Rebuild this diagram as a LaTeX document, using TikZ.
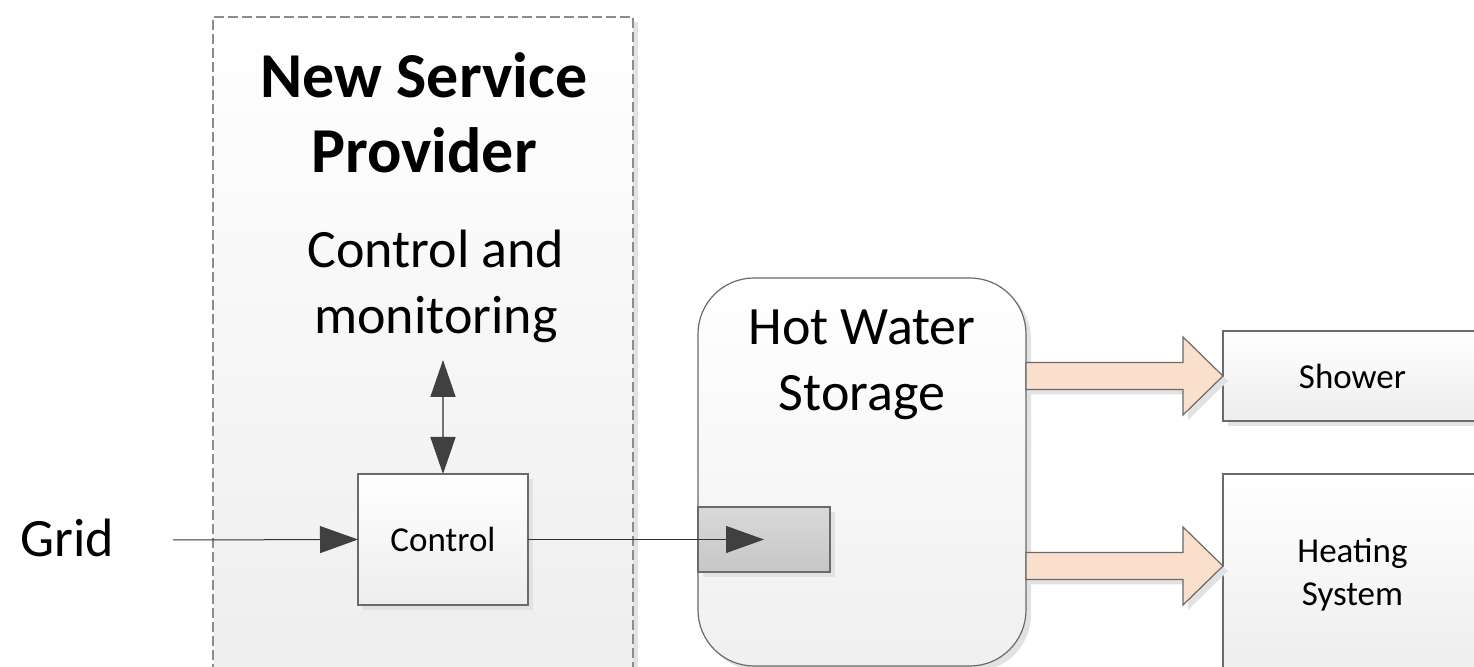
\documentclass[tikz,border=0pt]{standalone}
\usepackage{fontspec}
\setmainfont{Carlito}
\usetikzlibrary{calc,arrows.meta,shadows}

\definecolor{edgegrey}{HTML}{6A6A6A}
\definecolor{headgrey}{HTML}{404040}
\definecolor{dashgrey}{HTML}{8C8C8C}
\definecolor{shadegrey}{HTML}{E2E2E2}
\definecolor{peach}{HTML}{F9DFCC}

\tikzset{
  boxshadow/.style={general shadow={fill=shadegrey, shadow xshift=2.5pt, shadow yshift=-2.5pt}},
  whitebox/.style={draw=edgegrey, line width=0.6pt, top color=white, bottom color=black!7,
    boxshadow, inner sep=0pt, outer sep=0pt, font=\fontsize{17.5}{21.5}\selectfont, align=center},
  heaterbox/.style={draw=edgegrey, line width=0.6pt, top color=black!15, bottom color=black!22,
    boxshadow, inner sep=0pt, outer sep=0pt},
  storebox/.style={draw=edgegrey, line width=0.6pt, top color=white, bottom color=black!6,
    rounded corners=28pt, boxshadow, inner sep=0pt, outer sep=0pt},
  providerbox/.style={draw=dashgrey, dash pattern=on 5pt off 2pt, line width=0.6pt,
    top color=white, bottom color=black!7, boxshadow, inner sep=0pt, outer sep=0pt},
  bigtext/.style={font=\fontsize{27}{33}\selectfont, align=center, inner sep=0pt},
  titletext/.style={font=\fontsize{32}{37.5}\selectfont\bfseries, align=center, inner sep=0pt},
  thinarrow/.style={draw=black!80, line width=0.5pt, -{Triangle[length=19pt,width=13.5pt,color=headgrey]}},
  dblarrow/.style={draw=black!55, line width=0.8pt,
    {Triangle[length=18.5pt,width=12.5pt,color=headgrey]}-{Triangle[length=18.5pt,width=12.5pt,color=headgrey]}},
  flowarrow/.style={draw=edgegrey, line width=0.6pt, fill=peach, boxshadow}
}

% block arrow from #1 to #2 (px units)
\newcommand{\fatarrow}[2]{%
  \draw[flowarrow] ($(#1)+(0,-13.5)$) -- ($(#2)+(-40,-13.5)$) -- ($(#2)+(-40,-39)$) -- (#2)
    -- ($(#2)+(-40,39)$) -- ($(#2)+(-40,13.5)$) -- ($(#1)+(0,13.5)$) -- cycle;}

\begin{document}
\begin{tikzpicture}[x=0.5pt,y=-0.5pt]
  \useasboundingbox (0,0) rectangle (1474,667);
  \clip (0,0) rectangle (1474,667);

  % provider area
  \node[providerbox, minimum width=210pt, minimum height=341.5pt, anchor=north west] (provider) at (213,17) {};
  \node[titletext] (title) at (424,113) {New Service\\Provider};
  \node[bigtext] (mon) at (436,286) {Control and\\monitoring};
  \node[whitebox, minimum width=85pt, minimum height=65.5pt] (ctrl) at (443,539.5) {Control};

  \node[bigtext] (grid) at (67,538) {Grid};

  % storage
  \node[storebox, minimum width=164pt, minimum height=194pt] (store) at (862,472) {};
  \node[bigtext] (storetext) at (862,365) {Hot Water\\Storage};
  \node[heaterbox, minimum width=66pt, minimum height=32.5pt] (heater) at (764,539.5) {};

  % consumers
  \node[whitebox, minimum width=129.5pt, minimum height=45pt] (shower) at (1352.5,376) {Shower};
  \node[whitebox, minimum width=129.5pt, minimum height=101pt] (heating) at (1352.5,575) {Heating\\System};

  % connectors
  \coordinate (gridout) at (173,540);
  \coordinate (monin) at (443,360);
  \draw[thinarrow] (gridout) -- (ctrl.west);
  \draw[dblarrow] (monin) -- (ctrl.north);
  \draw[thinarrow] (ctrl.east) -- (heater.center);

  \fatarrow{store.east |- shower.west}{shower.west}
  \coordinate (heatin) at ($(heating.north west)+(0,92)$);
  \fatarrow{store.east |- heatin}{heatin}
\end{tikzpicture}
\end{document}
